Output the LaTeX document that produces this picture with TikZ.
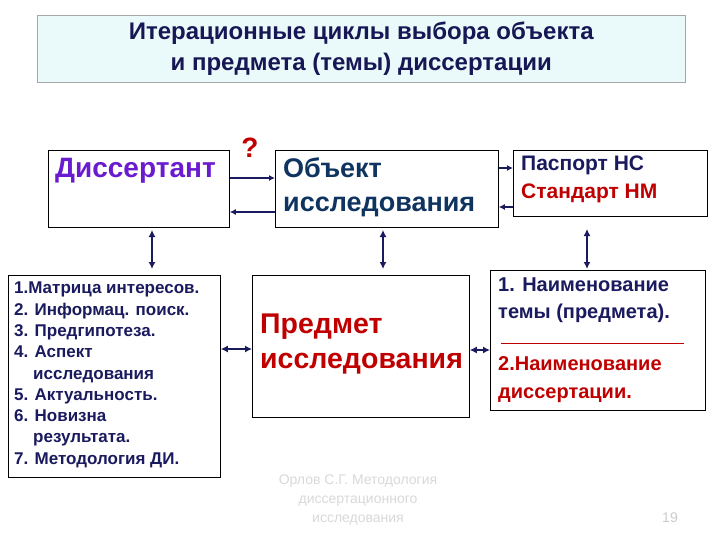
\documentclass[tikz,border=0pt]{standalone}
\usepackage{fontspec}
\setmainfont{Liberation Sans}
\usetikzlibrary{arrows.meta}
\definecolor{navy}{HTML}{1A1A5E}
\definecolor{dred}{HTML}{C00000}
\definecolor{purp}{HTML}{6A1BD0}
\definecolor{tblue}{HTML}{0F3460}
\definecolor{cyanbg}{HTML}{EAF9F9}
\tikzset{
 box/.style={draw=black, line width=0.8pt, fill=white, inner sep=0pt},
 conn/.style={navy, line width=1.3pt, -{Latex[length=6pt,width=6pt]}},
 dconn/.style={navy, line width=1.3pt, {Latex[length=7pt,width=7pt]}-{Latex[length=7pt,width=7pt]}},
 lbl/.style={anchor=north west, align=left, inner sep=0pt, font=\bfseries}
}
\begin{document}
\begin{tikzpicture}[x=1pt,y=-1pt]
\useasboundingbox (0,0) rectangle (720,540);
\fill[white] (0,0) rectangle (720,540);
% title
\node[draw=gray!70, fill=cyanbg, minimum width=648, minimum height=67, anchor=north west, align=center, font=\bfseries\fontsize{24}{31}\selectfont, text=navy!90!black] (title) at (37,15) {Итерационные циклы выбора объекта\\и предмета (темы) диссертации};
% boxes
\node[box, minimum width=181, minimum height=77, anchor=north west] (dis) at (48,150) {};
\node[lbl, text=purp, font=\bfseries\fontsize{28}{30}\selectfont] (dist) at (55,158) {Диссертант};
\node[box, minimum width=223, minimum height=77, anchor=north west] (obj) at (275,150) {};
\node[lbl, text=tblue, font=\bfseries\fontsize{27}{34}\selectfont] (objt) at (283,157) {Объект\\исследования};
\node[box, minimum width=194, minimum height=66, anchor=north west] (pas) at (513,150) {};
\node[lbl, font=\bfseries\fontsize{21}{28}\selectfont] (past) at (521,156) {\textcolor{navy}{Паспорт НС}\\\textcolor{dred}{Стандарт НМ}};
\node[box, minimum width=212, minimum height=202, anchor=north west] (lst) at (8,275) {};
\node[lbl, text=navy, font=\bfseries\fontsize{17}{21.3}\selectfont] (lstt) at (14,282) {1.Матрица интересов.\\2. Информац. поиск.\\3. Предгипотеза.\\4. Аспект\\\hspace*{19pt}исследования\\5. Актуальность.\\6. Новизна\\\hspace*{19pt}результата.\\7. Методология ДИ.};
\node[box, minimum width=217, minimum height=142, anchor=north west] (pred) at (252,275) {};
\node[lbl, text=dred, font=\bfseries\fontsize{28.5}{35}\selectfont] (predt) at (260,314) {Предмет\\исследования};
\node[box, minimum width=215, minimum height=140, anchor=north west] (nam) at (490,270) {};
\node[lbl, text=navy, font=\bfseries\fontsize{20}{27}\selectfont] (namt1) at (498,278) {1. Наименование\\темы (предмета).};
\node[lbl, text=dred, font=\bfseries\fontsize{20}{28}\selectfont] (namt2) at (498,356) {2.Наименование\\диссертации.};
\coordinate (la) at (501,343); \coordinate (lb) at (684,343);
\draw[dred, line width=0.6pt] (la) -- (lb);
% question mark
\node[text=dred, font=\fontsize{28}{28}\selectfont\bfseries\rmfamily] (q) at (250,148) {?};
% arrows
\draw[conn] (dis.east |- 0,178) -- (obj.west |- 0,178);
\draw[conn] (obj.west |- 0,212) -- (dis.east |- 0,212);
\draw[conn] (obj.east |- 0,168) -- (pas.west |- 0,168);
\draw[conn] (pas.west |- 0,207) -- (obj.east |- 0,207);
\draw[dconn] (152,230) coordinate (a1) -- (152,269) coordinate (a2);
\draw[dconn] (383,230) coordinate (b1) -- (383,269) coordinate (b2);
\draw[dconn, line width=2.5pt] (587,229) coordinate (c1) -- (587,269) coordinate (c2);
\draw[dconn] (lst.east |- 0,349) -- (pred.west |- 0,349);
\draw[dconn] (pred.east |- 0,350) -- (nam.west |- 0,350);
% footer
\node[text=gray!30, align=center, font=\fontsize{14}{19}\selectfont] (foot) at (358,500) {Орлов С.Г. Методология\\диссертационного\\исследования};
\node[text=gray!40, font=\fontsize{14}{14}\selectfont] (pg) at (670,518) {19};
\end{tikzpicture}
\end{document}
